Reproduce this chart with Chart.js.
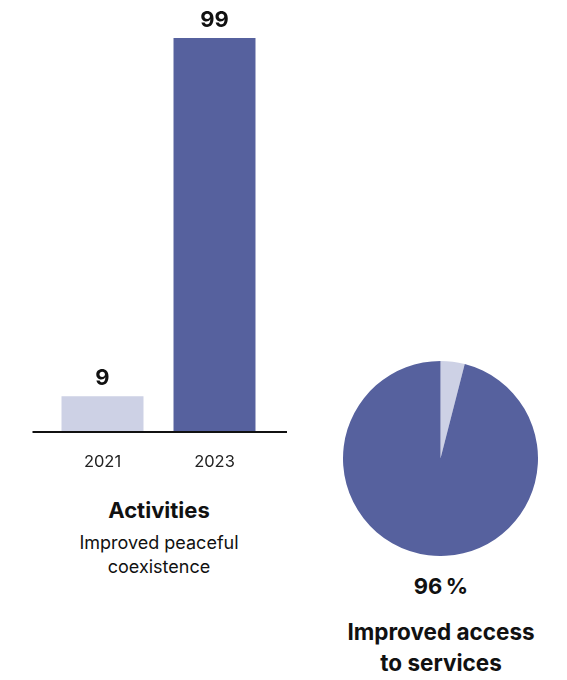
<!DOCTYPE html>
<html lang="en">
<head>
  <meta charset="UTF-8">
  <title>Activities and access to services</title>
  <script src="https://cdn.jsdelivr.net/npm/chart.js"></script>
  <style>
    body {
      margin: 0;
      background: white;
      font-family: Inter, "Liberation Sans", sans-serif;
      color: #111;
    }
    #page {
      position: relative;
      width: 567px;
      height: 680px;
    }
    #bar-box {
      position: absolute;
      left: 0;
      top: 0;
      width: 300px;
      height: 480px;
    }
    #pie-box {
      position: absolute;
      left: 343px;
      top: 361px;
      width: 195px;
      height: 195px;
    }
    .caption {
      position: absolute;
      width: 240px;
      text-align: center;
    }
    .bold { font-weight: 700; }
  </style>
</head>
<body>
<div id="page">
  <div id="bar-box"><canvas id="barChart"></canvas></div>
  <div id="pie-box"><canvas id="pieChart"></canvas></div>

  <div class="caption bold" style="left:39px; top:495px; font-size:22px; line-height:30px;">Activities</div>
  <div class="caption" style="left:39px; top:531px; font-size:18px; line-height:24px;">Improved peaceful<br>coexistence</div>

  <div class="caption bold" id="pieValue" style="left:321px; top:571px; font-size:22px; line-height:30px;"></div>
  <div class="caption bold" style="left:321px; top:616px; font-size:22.5px; line-height:31px;">Improved access<br>to services</div>
</div>

<script>
  // activities per year
  const years = ['2021', '2023'];
  const activities = [9, 99];

  // share of respondents: [not improved, improved]
  const accessLabels = ['Not improved', 'Improved'];
  const accessShare = [4, 96];

  const DARK = '#56619e';
  const LIGHT = '#cdd1e5';

  // baseline drawn a little wider than the bars' plot area
  const baselinePlugin = {
    id: 'baseline',
    afterDatasetsDraw(chart) {
      const { ctx, chartArea } = chart;
      ctx.save();
      ctx.strokeStyle = '#111';
      ctx.lineWidth = 2;
      ctx.beginPath();
      ctx.moveTo(chartArea.left - 14, chartArea.bottom);
      ctx.lineTo(chartArea.right + 16.5, chartArea.bottom);
      ctx.stroke();
      ctx.restore();
    }
  };

  // value above each bar
  const valueLabels = {
    id: 'valueLabels',
    afterDatasetsDraw(chart) {
      const { ctx } = chart;
      const meta = chart.getDatasetMeta(0);
      ctx.save();
      ctx.font = '700 22px Inter, "Liberation Sans", sans-serif';
      ctx.fillStyle = '#111';
      ctx.textAlign = 'center';
      ctx.textBaseline = 'alphabetic';
      meta.data.forEach((bar, i) => {
        ctx.fillText(String(chart.data.datasets[0].data[i]), bar.x, bar.y - 11);
      });
      ctx.restore();
    }
  };

  new Chart(document.getElementById('barChart'), {
    type: 'bar',
    data: {
      labels: years,
      datasets: [{
        data: activities,
        backgroundColor: [LIGHT, DARK],
        borderWidth: 0,
        categoryPercentage: 1,
        barPercentage: 0.732
      }]
    },
    options: {
      responsive: true,
      maintainAspectRatio: false,
      animation: false,
      layout: { padding: { top: 38, left: 46.5, right: 29.5, bottom: 0 } },
      plugins: { legend: { display: false }, tooltip: { enabled: false } },
      scales: {
        x: {
          grid: { display: false, drawTicks: false },
          border: { display: false },
          ticks: {
            color: '#222',
            padding: 20,
            font: { family: 'Inter', size: 16.5 }
          },
          afterFit(scale) { scale.height = 48; }
        },
        y: { display: false, min: 0, max: 99 }
      }
    },
    plugins: [baselinePlugin, valueLabels]
  });

  new Chart(document.getElementById('pieChart'), {
    type: 'pie',
    data: {
      labels: accessLabels,
      datasets: [{
        data: accessShare,
        backgroundColor: [LIGHT, DARK],
        borderWidth: 0
      }]
    },
    options: {
      responsive: true,
      maintainAspectRatio: false,
      animation: false,
      plugins: { legend: { display: false }, tooltip: { enabled: false } }
    }
  });

  document.getElementById('pieValue').textContent = accessShare[1] + '\u2009%';
</script>
</body>
</html>
